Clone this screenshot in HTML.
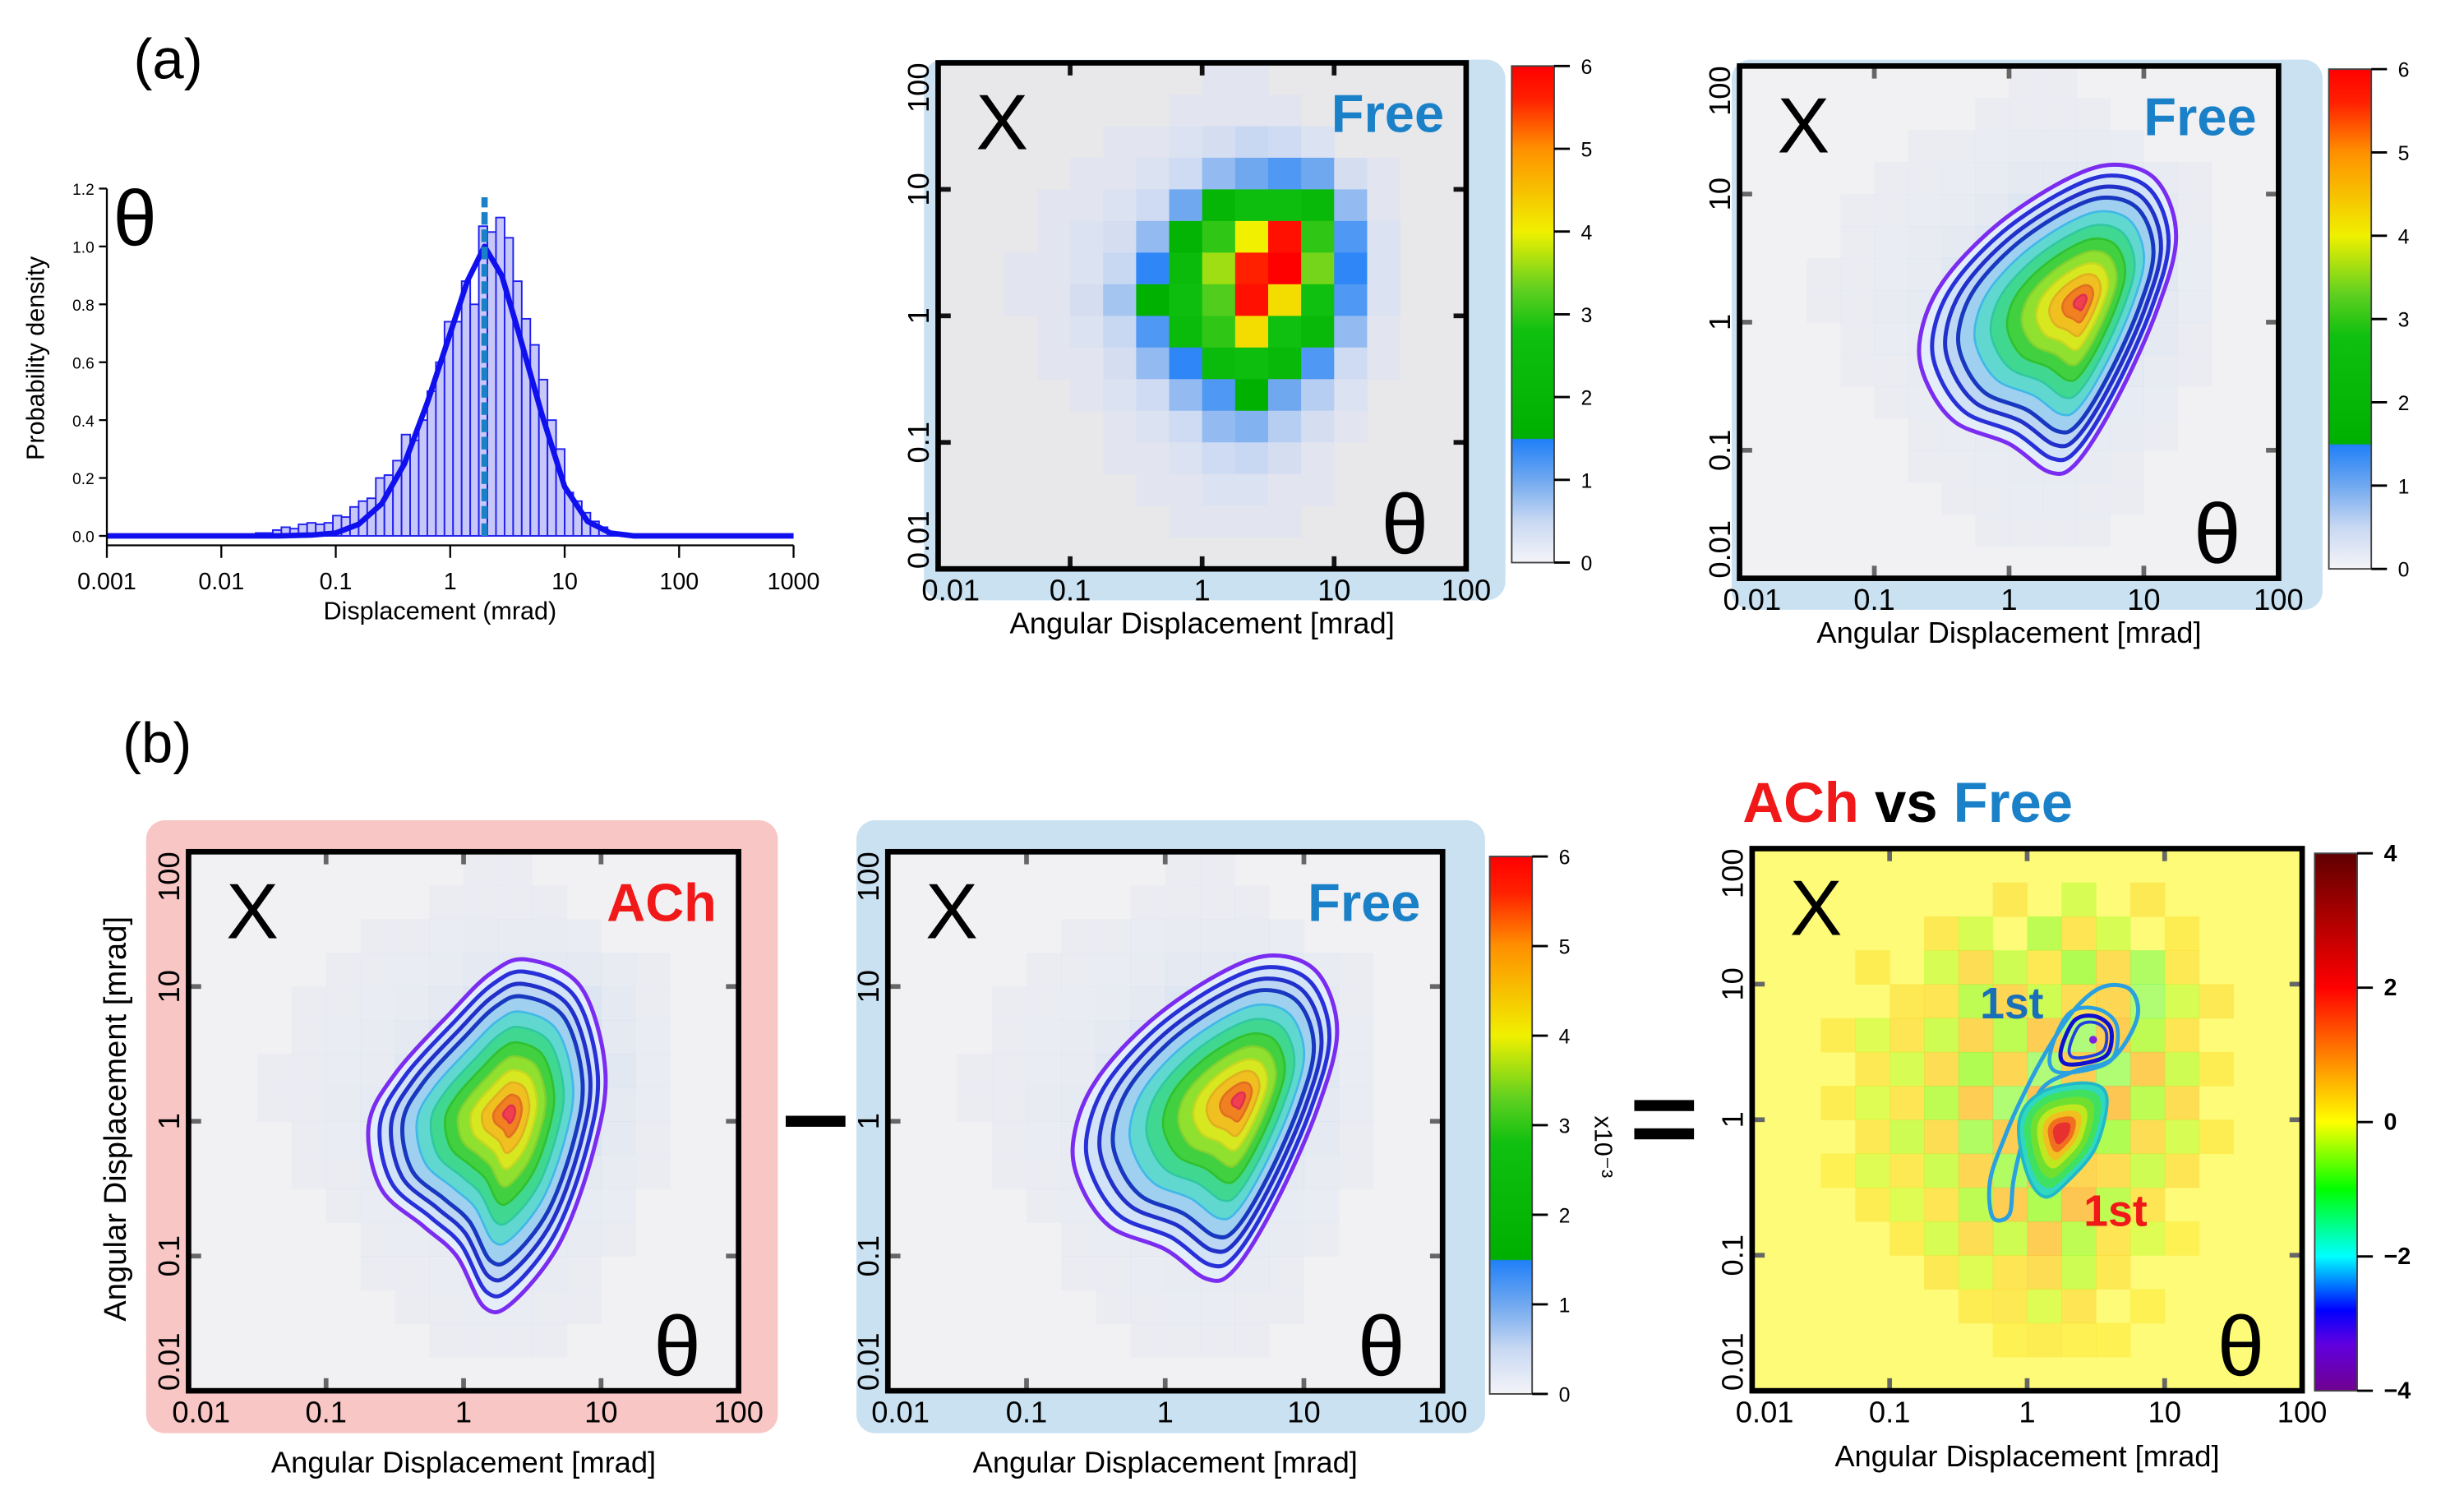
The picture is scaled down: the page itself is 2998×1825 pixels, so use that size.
<!DOCTYPE html>
<html><head><meta charset="utf-8">
<style>
html,body{margin:0;padding:0;background:#fff;}
svg{display:block;font-family:"Liberation Sans",sans-serif;}
</style></head>
<body>
<svg id="fig" width="2998" height="1825" viewBox="0 0 1568 954.5" preserveAspectRatio="none" xmlns="http://www.w3.org/2000/svg"></svg>
<script>
// ===== Histogram data =====
const binLogLeft = [-1.7,-1.625,-1.55,-1.475,-1.4,-1.325,-1.25,-1.175,-1.1,-1.025,-0.95,-0.875,-0.8,-0.725,-0.65,-0.575,-0.5,-0.425,-0.35,-0.275,-0.2,-0.125,-0.05,0.025,0.1,0.175,0.25,0.325,0.4,0.475,0.55,0.625,0.7,0.775,0.85,0.925,1.0,1.075,1.15,1.225,1.3,1.375];
const binValues = [0.01,0.01,0.02,0.03,0.025,0.04,0.045,0.04,0.045,0.07,0.065,0.1,0.12,0.13,0.2,0.21,0.26,0.35,0.33,0.4,0.5,0.6,0.74,0.74,0.88,0.8,1.07,1.05,1.1,1.03,0.88,0.75,0.66,0.54,0.4,0.3,0.15,0.12,0.08,0.05,0.03,0.01];
const binWidthLog = 0.075;
const fitLogX = [-3,-1.5,-1.2,-1,-0.8,-0.6,-0.4,-0.2,0,0.15,0.3,0.45,0.6,0.8,1.0,1.2,1.4,1.6,3];
const fitY = [0,0,0.003,0.01,0.04,0.11,0.25,0.46,0.7,0.88,1.0,0.9,0.7,0.42,0.17,0.05,0.01,0,0];
const peakLog = 0.3;
const histXTicks = ['0.001','0.01','0.1','1','10','100','1000'];
const histYTicks = ['0.0','0.2','0.4','0.6','0.8','1.0','1.2'];

// ===== Heatmap data (rows top->bottom, lower edge log y 1.75 .. -2; cols log x -2 .. 1.75, 0.25 decade) =====
const cellLogX = [-2,-1.75,-1.5,-1.25,-1,-0.75,-0.5,-0.25,0,0.25,0.5,0.75,1,1.25,1.5,1.75];
const cellLogY = [1.75,1.5,1.25,1,0.75,0.5,0.25,0,-0.25,-0.5,-0.75,-1,-1.25,-1.5,-1.75,-2];
const freeDensity = [
[0,0,0,0,0,0,0,0,0.1,0.1,0,0,0,0,0,0],
[0,0,0,0,0,0,0,0.1,0.1,0.1,0.1,0,0,0,0,0],
[0,0,0,0,0,0.1,0.1,0.2,0.3,0.5,0.4,0.2,0,0,0,0],
[0,0,0,0,0.1,0.1,0.2,0.4,0.8,1.0,1.2,1.0,0.3,0.1,0,0],
[0,0,0,0.1,0.1,0.2,0.4,1.0,2.0,2.6,2.6,2.2,0.8,0.1,0,0],
[0,0,0,0.1,0.2,0.3,0.8,1.8,3.0,4.0,5.8,3.0,1.2,0.2,0,0],
[0,0,0.1,0.1,0.2,0.5,1.4,2.4,3.6,5.6,6.0,3.4,1.4,0.2,0,0],
[0,0,0.1,0.1,0.3,0.7,1.6,2.6,3.2,5.8,4.2,2.8,1.2,0.2,0,0],
[0,0,0,0.1,0.2,0.5,1.2,2.4,3.0,4.2,2.8,2.2,0.8,0.1,0,0],
[0,0,0,0.1,0.1,0.3,0.8,1.4,2.4,2.6,2.2,1.2,0.4,0.1,0,0],
[0,0,0,0,0.1,0.2,0.4,0.8,1.2,1.6,1.0,0.6,0.2,0,0,0],
[0,0,0,0,0,0.1,0.2,0.4,0.8,0.9,0.6,0.3,0.1,0,0,0],
[0,0,0,0,0,0.1,0.1,0.2,0.4,0.5,0.3,0.1,0,0,0,0],
[0,0,0,0,0,0,0.1,0.1,0.2,0.2,0.1,0.1,0,0,0,0],
[0,0,0,0,0,0,0,0.1,0.1,0.1,0.1,0,0,0,0,0],
[0,0,0,0,0,0,0,0,0,0,0,0,0,0,0,0]];
const diffValues = [
[0,0,0,0,0,0,0,0,0,0,0,0,0,0,0,0],
[0,0,0,0,0,0,0,0.5,0,-0.5,0,0.5,0,0,0,0],
[0,0,0,0,0,0.5,-0.5,0,-0.8,0.6,-0.5,0,0.4,0,0,0],
[0,0,0,0.4,0,-0.5,0.8,-0.6,0.5,-1,0.8,-1.2,0.5,0,0,0],
[0,0,0,0,0.5,0.6,-0.8,1,-0.6,0.8,1,-1.4,-0.5,0.5,0,0],
[0,0,0.4,-0.4,0.6,-0.6,1,-0.8,1.2,-1.5,1.2,-0.8,0.6,0,0,0],
[0,0,0,0.5,-0.5,0.8,-1,1,-1.5,1.2,-1.4,1.2,-0.6,0.4,0,0],
[0,0,0.4,-0.4,0.6,-0.8,1.2,-1.4,1.5,-1.2,1.4,-0.8,0.8,0,0,0],
[0,0,0,0.5,-0.6,0.8,-1.2,1.2,-1,1.4,-1,0.8,-0.5,0.4,0,0],
[0,0,0.3,-0.4,0.5,-0.6,1,-1.2,1.4,1,0.8,-0.6,0.6,0,0,0],
[0,0,0,0.4,-0.4,0.6,-0.8,1.2,-1,1.4,-0.8,0.6,0,0,0,0],
[0,0,0,0,0.4,-0.5,0.8,-0.6,1.2,-0.8,0.6,-0.4,0.3,0,0,0],
[0,0,0,0,0,0.5,-0.4,0.6,0.8,-0.6,0.5,0,0,0,0,0],
[0,0,0,0,0,0,0.4,0.5,-0.4,0.6,0,0.3,0,0,0,0],
[0,0,0,0,0,0,0,0.3,0.4,0.3,0.3,0,0,0,0,0],
[0,0,0,0,0,0,0,0,0,0,0,0,0,0,0,0]];
const heatTicks = ['0.01','0.1','1','10','100'];
const densityBarTicks = ['0','1','2','3','4','5','6'];
const diffBarTicks = ['4','2','0','\u22122','\u22124'];

// contour outlines (log x, log y) and centres
const freeOutline = [[-0.66,-0.12],[-0.5,0.3],[-0.1,0.75],[0.4,1.1],[0.78,1.23],[1.1,1.1],[1.24,0.67],[1.1,0.1],[0.8,-0.6],[0.5,-1.1],[0.3,-1.17],[0,-0.95],[-0.4,-0.78],[-0.62,-0.45]];
const freeCentre = [0.54,0.16];
const achOutline = [[-0.69,-0.03],[-0.5,0.35],[-0.1,0.8],[0.2,1.1],[0.46,1.2],[0.85,1.0],[1.03,0.39],[0.95,-0.2],[0.7,-0.9],[0.35,-1.35],[0.15,-1.38],[-0.05,-1.0],[-0.29,-0.78],[-0.6,-0.5]];
const achCentre = [0.34,0.06];
const contourLevels = [1,0.92,0.84,0.76,0.66,0.56,0.46,0.37,0.28,0.2,0.12,0.05];
const levelFill = ['#e4eefb','#d2e2f7','#bcd6f4','#9fd0ef','#60d8d0','#40d890','#40d040','#90e030','#d8e820','#f0c020','#f08020','#f04050'];
const levelStroke = ['#7a2cf0','#2830d8','#2030c8','#1838c0','#40b8e8','#30c8a0','#30c030','#80d030','#c8d820','#e0b020','#e07020','#e03050'];
const diffRedOutline = [[0.44,0.27],[0.58,0.16],[0.5,-0.2],[0.3,-0.45],[0.13,-0.57],[0.0,-0.4],[-0.06,-0.02],[0.1,0.2]];
const diffRedCentre = [0.25,-0.09];
const diffRedLevels = [1,0.85,0.7,0.55,0.42,0.3,0.18];
const diffRedFill = ['#30d8c0','#40e060','#70e030','#c0e820','#f0c020','#f07020','#e83030'];
const diffBlueInner = [[0.17,0.5],[0.3,0.78],[0.5,0.82],[0.65,0.7],[0.62,0.45],[0.4,0.36],[0.2,0.36]];
const diffBlueCentre = [0.48,0.59];
const diffBlueOuter = [[-0.25,-0.72],[-0.13,-0.7],[-0.1,-0.45],[-0.03,-0.15],[0.1,0.22],[0.35,0.36],[0.62,0.45],[0.8,0.75],[0.75,0.96],[0.55,0.98],[0.35,0.82],[0.15,0.52],[-0.02,0.2],[-0.16,-0.12],[-0.27,-0.45]];

// ===== helpers =====
const NS='http://www.w3.org/2000/svg';
const svg=document.getElementById('fig');
function mk(tag,attrs,parent,text){const e=document.createElementNS(NS,tag);for(const k in attrs)e.setAttribute(k,attrs[k]);if(text!==undefined)e.textContent=text;(parent||svg).appendChild(e);return e;}
function hex(c){return [parseInt(c.substr(1,2),16),parseInt(c.substr(3,2),16),parseInt(c.substr(5,2),16)];}
function interp(stops,v){if(v<=stops[0][0])return stops[0][1];for(let i=1;i<stops.length;i++){if(v<=stops[i][0]){const t=(v-stops[i-1][0])/(stops[i][0]-stops[i-1][0]);const a=hex(stops[i-1][1]),b=hex(stops[i][1]);return 'rgb('+a.map((x,j)=>Math.round(x+(b[j]-x)*t)).join(',')+')';}}return stops[stops.length-1][1];}
const densStops=[[0,'#e8e8f0'],[0.5,'#c8d8f2'],[1,'#70a8f0'],[1.49,'#2080f8'],[1.5,'#00b000'],[2.8,'#10c010'],[3.3,'#60d020'],[4,'#f0f000'],[5,'#ff9000'],[5.6,'#ff2000'],[6,'#ff0000']];
const diffStops=[[-4,'#700090'],[-3.3,'#6000e0'],[-2.8,'#0000ff'],[-2,'#00ffff'],[-1,'#00ff00'],[0,'#ffff00'],[1,'#ff8000'],[2,'#ff0000'],[4,'#600000']];
function smoothPath(pts){const n=pts.length;let d='M'+pts[0][0].toFixed(1)+','+pts[0][1].toFixed(1);for(let i=0;i<n;i++){const p0=pts[(i-1+n)%n],p1=pts[i],p2=pts[(i+1)%n],p3=pts[(i+2)%n];const c1=[p1[0]+(p2[0]-p0[0])/6,p1[1]+(p2[1]-p0[1])/6],c2=[p2[0]-(p3[0]-p1[0])/6,p2[1]-(p3[1]-p1[1])/6];d+='C'+c1[0].toFixed(1)+','+c1[1].toFixed(1)+' '+c2[0].toFixed(1)+','+c2[1].toFixed(1)+' '+p2[0].toFixed(1)+','+p2[1].toFixed(1);}return d+'Z';}

// ===== Labels =====
let t;
t=mk('text',{x:85,y:50,'font-size':36},svg,'(a)');

t=mk('text',{x:78,y:485,'font-size':36},svg,'(b)');


// ===== Histogram =====
(function(){
  const X0=68,X1=505,Y0=341,Ytop=120;
  const g=mk('g',{});
  const xs=l=>X0+(l+3)/6*(X1-X0), ys=v=>Y0-v/1.2*(Y0-Ytop);
  for(let i=0;i<binValues.length;i++){
    const r=mk('rect',{x:xs(binLogLeft[i]),y:ys(binValues[i]),width:xs(binLogLeft[i]+binWidthLog)-xs(binLogLeft[i]),height:Y0-ys(binValues[i]),fill:'#c8c8f8',stroke:'#2020f0','stroke-width':1},g);
    
  }
  let d='';fitLogX.forEach((l,i)=>{d+=(i?'L':'M')+xs(l).toFixed(1)+','+ys(fitY[i]).toFixed(1);});
  const fit=mk('path',{d:d,fill:'none',stroke:'#1010ee','stroke-width':3.5,'stroke-linejoin':'round'},g);
  
  const pk=mk('line',{x1:xs(peakLog),x2:xs(peakLog),y1:Y0,y2:ys(1.17),stroke:'#1a80c8','stroke-width':4,'stroke-dasharray':'8,3'},g);
  
  const ax=mk('path',{d:'M'+X0+','+Ytop+'V'+(Y0+6)+'M'+X0+','+(Y0+6)+'H'+X1,stroke:'#000','stroke-width':1.2,fill:'none'},g);
  
  histXTicks.forEach((s,i)=>{const x=xs(i-3);mk('line',{x1:x,x2:x,y1:Y0+6,y2:Y0+14,stroke:'#000','stroke-width':1.2},g);
    const tx=mk('text',{x:x,y:375,'font-size':15,'text-anchor':'middle'},g,s);});
  histYTicks.forEach((s,i)=>{const y=ys(i*0.2);mk('line',{x1:X0-5,x2:X0,y1:y,y2:y,stroke:'#000','stroke-width':1.2},g);
    const tx=mk('text',{x:X0-8,y:y+4,'font-size':10,'text-anchor':'end'},g,s);});
  const xl=mk('text',{x:280,y:394,'font-size':16,'text-anchor':'middle'},g,'Displacement (mrad)');
  const yl=mk('text',{x:0,y:0,'font-size':16,'text-anchor':'middle',transform:'translate(28,228) rotate(-90)'},g,'Probability density');
  const th=mk('text',{x:72,y:156,'font-size':50},g,'\u03B8');
})();

// ===== Heatmap panels =====
function panel(p){
  const g=mk('g',{});
  if(p.bg){const b=mk('rect',{x:p.bg[0],y:p.bg[1],width:p.bg[2],height:p.bg[3],rx:12,fill:p.bgColor},g);}
  const xs=l=>p.x0+(l+2)/4*(p.x1-p.x0), ys=l=>p.y1-(l+2)/4*(p.y1-p.y0);
  const cid='clip-'+p.name;const cp=mk('clipPath',{id:cid},g);mk('rect',{x:p.x0,y:p.y0,width:p.x1-p.x0,height:p.y1-p.y0},cp);
  const inner=mk('g',{'clip-path':'url(#'+cid+')'},g);
  mk('rect',{x:p.x0,y:p.y0,width:p.x1-p.x0,height:p.y1-p.y0,fill:p.mode==='diff'?'#fdfb78':(p.mode==='dens'?'#e8e8ea':'#f1f1f3')},inner);
  for(let r=0;r<cellLogY.length;r++)for(let c=0;c<cellLogX.length;c++){
    let v, fill, op=1;
    if(p.mode==='diff'){v=diffValues[r][c];if(!v)continue;fill=interp(diffStops,v);op=0.3;}
    else{v=freeDensity[r][c];if(!v)continue;if(p.mode==='dens'){fill=interp(densStops,v);}else{fill='#b4ccf0';op=Math.min(0.1+v*0.1,0.4);}}
    const x=xs(cellLogX[c]),y=ys(cellLogY[r]+0.25);
    const cell=mk('rect',{x:x,y:y,width:xs(cellLogX[c]+0.25)-x+0.3,height:ys(cellLogY[r])-y+0.3,fill:fill,'fill-opacity':op},inner);
    
  }
  if(p.contour){
    const [oc,cc]=p.contour;
    contourLevels.forEach((s,i)=>{
      const pts=oc.map(q=>[xs(cc[0]+s*(q[0]-cc[0])),ys(cc[1]+s*(q[1]-cc[1]))]);
      const pa=mk('path',{d:smoothPath(pts),fill:levelFill[i],stroke:levelStroke[i],'stroke-width':i<4?2.6:1.4},inner);
      
    });
  }
  if(p.mode==='diff'){
    const outer=mk('path',{d:smoothPath(diffBlueOuter.map(q=>[xs(q[0]),ys(q[1])])),fill:'none',stroke:'#2aa0e0','stroke-width':2.6},inner);
    
    diffRedLevels.forEach((s,i)=>{const pts=diffRedOutline.map(q=>[xs(diffRedCentre[0]+s*(q[0]-diffRedCentre[0])),ys(diffRedCentre[1]+s*(q[1]-diffRedCentre[1]))]);
      const pa=mk('path',{d:smoothPath(pts),fill:diffRedFill[i],stroke:i?diffRedFill[i]:'#20b8c8','stroke-width':i?1:2},inner);});
    [[1,'#2aa0e0',2.4],[0.75,'#1010d0',2.6],[0.55,'#2040e0',2]].forEach(([s,col,w])=>{const pts=diffBlueInner.map(q=>[xs(diffBlueCentre[0]+s*(q[0]-diffBlueCentre[0])),ys(diffBlueCentre[1]+s*(q[1]-diffBlueCentre[1]))]);
      const pa=mk('path',{d:smoothPath(pts),fill:'none',stroke:col,'stroke-width':w},inner);});
    mk('circle',{cx:xs(diffBlueCentre[0]),cy:ys(diffBlueCentre[1]),r:2.5,fill:'#8020e0'},inner);
  }
  const tc=p.mode==='dens'?'#111':'#666';
  for(let k=1;k<4;k++){const x=xs(k-2),y=ys(k-2);
    mk('line',{x1:x,x2:x,y1:p.y0,y2:p.y0+8,stroke:tc,'stroke-width':3},g);mk('line',{x1:x,x2:x,y1:p.y1,y2:p.y1-8,stroke:tc,'stroke-width':3},g);
    mk('line',{x1:p.x0,x2:p.x0+8,y1:y,y2:y,stroke:tc,'stroke-width':3},g);mk('line',{x1:p.x1,x2:p.x1-8,y1:y,y2:y,stroke:tc,'stroke-width':3},g);}
  const fr=mk('rect',{x:p.x0,y:p.y0,width:p.x1-p.x0,height:p.y1-p.y0,fill:'none',stroke:'#000','stroke-width':3.5},g);
  
  heatTicks.forEach((s,i)=>{
    const xt=mk('text',{x:xs(i-2)+(i===0?8:0),y:p.y1+20,'font-size':19,'text-anchor':'middle'},g,s);
    const yt=mk('text',{x:0,y:0,'font-size':19,'text-anchor':i===0?'start':(i===4?'end':'middle'),transform:'translate('+(p.x0-6)+','+(ys(i-2))+') rotate(-90)'},g,s);
  });
  const xt=mk('text',{x:(p.x0+p.x1)/2,y:p.xTitleY,'font-size':19,'text-anchor':'middle'},g,'Angular Displacement [mrad]');
  const xx=mk('text',{x:p.x0+24,y:p.y0+55,'font-size':50},g,'X');
  const tt=mk('text',{x:p.x1-54,y:p.y1-10,'font-size':54},g,'\u03B8');
  if(p.tag){const lb=mk('text',{x:p.x1-14,y:p.y0+44,'font-size':34,'font-weight':'bold','text-anchor':'end',fill:p.tagColor},g,p.tag);}
}
function colorbar(x,y0,y1,stops,vmin,vmax,labels,name){
  const g=mk('g',{});
  const id='grad-'+name;const lg=mk('linearGradient',{id:id,x1:0,y1:1,x2:0,y2:0},g);
  stops.forEach(s=>mk('stop',{offset:((s[0]-vmin)/(vmax-vmin)).toFixed(4),'stop-color':s[1]},lg));
  mk('rect',{x:x,y:y0,width:27,height:y1-y0,fill:'url(#'+id+')',stroke:'#444','stroke-width':1},g);
  labels.forEach((s,i)=>{const y=y0+(y1-y0)*i/(labels.length-1);mk('line',{x1:x+27,x2:x+37,y1:y,y2:y,stroke:'#000','stroke-width':1.5},g);
    const tx=mk('text',{x:x+44,y:y+5,'font-size':labels.length>5?13:15,'font-weight':labels.length>5?'normal':'bold'},g,s);});
}
const densStopsBar=densStops.slice();densStopsBar[0]=[0,'#f4f4f8'];
panel({name:'free-heatmap-top',x0:597,x1:933,y0:40,y1:362,bg:[588,38,370,344],bgColor:'#c9e1f1',mode:'dens',tag:'Free',tagColor:'#1a80c8',xTitleY:403});
colorbar(962,42,358,densStopsBar,0,6,densityBarTicks.slice().reverse(),'colorbar-top-middle');
panel({name:'free-contour-top',x0:1107,x1:1450,y0:42,y1:368,bg:[1102,38,376,350],bgColor:'#c9e1f1',mode:'pale',contour:[freeOutline,freeCentre],tag:'Free',tagColor:'#1a80c8',xTitleY:409});
colorbar(1482,44,362,densStopsBar,0,6,densityBarTicks.slice().reverse(),'colorbar-top-right');
panel({name:'ach-contour',x0:120,x1:470,y0:542,y1:885,bg:[93,522,402,390],bgColor:'#f8c6c4',mode:'pale',contour:[achOutline,achCentre],tag:'ACh',tagColor:'#f01818',xTitleY:937});
panel({name:'free-contour-bottom',x0:565,x1:918,y0:542,y1:885,bg:[545,522,400,390],bgColor:'#c9e1f1',mode:'pale',contour:[freeOutline,freeCentre],tag:'Free',tagColor:'#1a80c8',xTitleY:937});
colorbar(948,545,887,densStopsBar,0,6,densityBarTicks.slice().reverse(),'colorbar-bottom-middle');
panel({name:'difference-map',x0:1115,x1:1465,y0:540,y1:885,mode:'diff',xTitleY:933});
colorbar(1473,543,885,diffStops,-4,4,diffBarTicks,'colorbar-difference');

t=mk('text',{x:0,y:0,'font-size':16,transform:'translate(1015,710) rotate(90)'},svg,'x10\u207B\u00B3');
t=mk('text',{x:0,y:0,'font-size':20,'text-anchor':'middle',transform:'translate(80,712) rotate(-90)'},svg,'Angular Displacement [mrad]');
t=mk('rect',{x:500,y:710,width:38,height:7,fill:'#000'});
t=mk('rect',{x:1040,y:700,width:38,height:7,fill:'#000'});
t=mk('rect',{x:1040,y:718,width:38,height:7,fill:'#000'});
const title=mk('text',{x:1109,y:523,'font-size':36,'font-weight':'bold'});
mk('tspan',{fill:'#f01818'},title,'ACh');mk('tspan',{fill:'#000'},title,' vs ');mk('tspan',{fill:'#1a80c8'},title,'Free');
t=mk('text',{x:1260,y:648,'font-size':28,'font-weight':'bold',fill:'#1a70b8'},svg,'1st');
t=mk('text',{x:1326,y:780,'font-size':28,'font-weight':'bold',fill:'#f01818'},svg,'1st');
</script>
</body></html>
